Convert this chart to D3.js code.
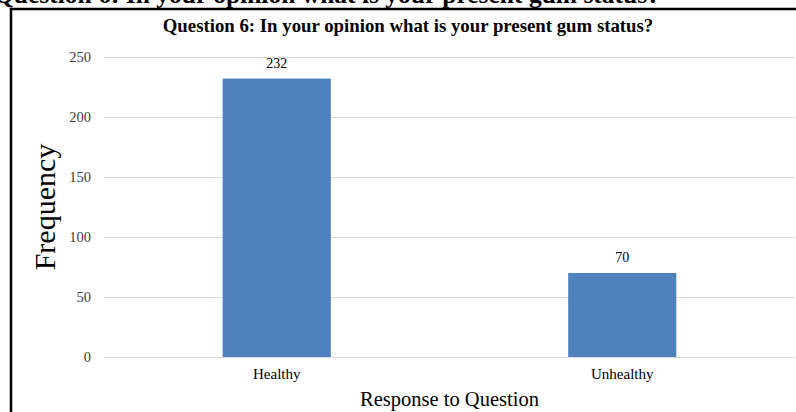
<!DOCTYPE html>
<html>
<head>
<meta charset="utf-8">
<script src="https://cdn.jsdelivr.net/npm/d3@7"></script>
<style>
html,body{margin:0;padding:0;background:#fff;overflow:hidden;}
svg{display:block;}
</style>
</head>
<body>
<script>
const categories = ["Healthy", "Unhealthy"];
const frequencies = [232, 70];
const yTicks = [0, 50, 100, 150, 200, 250];
const chartTitle = "Question 6: In your opinion what is your present gum status?";
const xTitle = "Response to Question";
const yTitle = "Frequency";

const W = 796, H = 412;
const svg = d3.select("body").append("svg").attr("width", W).attr("height", H);
const serif = "'Liberation Serif','Times New Roman',serif";

// cropped caption at top (from the surrounding document)
svg.append("text").attr("x", -6).attr("y", 3)
  .attr("font-family", serif).attr("font-weight", "bold").attr("font-size", 25.5)
  .attr("fill", "#000").text(chartTitle);

// frame
svg.append("line").attr("x1", 10).attr("x2", W).attr("y1", 9).attr("y2", 9)
  .attr("stroke", "#000").attr("stroke-width", 2.5);
svg.append("line").attr("x1", 11).attr("x2", 11).attr("y1", 8).attr("y2", H)
  .attr("stroke", "#000").attr("stroke-width", 2.5);

const plot = {left: 104, right: 795, top: 57, bottom: 357};
const y = d3.scaleLinear().domain([0, 250]).range([plot.bottom, plot.top]);
const x = d3.scaleBand().domain(categories).range([plot.left, plot.right]).padding(0);
const barFrac = 0.313;

// gridlines
svg.append("g").selectAll("line").data(yTicks).join("line")
  .attr("x1", plot.left).attr("x2", plot.right)
  .attr("y1", d => y(d) + 0.5).attr("y2", d => y(d) + 0.5)
  .attr("stroke", "#d9d9d9").attr("stroke-width", 1);

// y axis labels
const yAxis = d3.axisLeft(y).tickValues(yTicks).tickSize(0).tickPadding(0);
const gy = svg.append("g").attr("transform", "translate(91,0)").call(yAxis);
gy.select(".domain").remove();
gy.selectAll("text").attr("font-family", serif).attr("font-size", 14.5).attr("fill", "#404040");

// bars
const bw = x.bandwidth() * barFrac;
svg.append("g").selectAll("rect").data(categories).join("rect")
  .attr("x", d => x(d) + (x.bandwidth() - bw) / 2)
  .attr("width", bw)
  .attr("y", (d, i) => y(frequencies[i]))
  .attr("height", (d, i) => y(0) - y(frequencies[i]))
  .attr("fill", "#4f81bd");

// value labels
svg.append("g").selectAll("text").data(categories).join("text")
  .attr("x", d => x(d) + x.bandwidth() / 2)
  .attr("y", (d, i) => y(frequencies[i]) - 11)
  .attr("text-anchor", "middle")
  .attr("font-family", serif).attr("font-size", 14).attr("fill", "#000")
  .text((d, i) => frequencies[i]);

// x axis labels
const xAxis = d3.axisBottom(x).tickSize(0).tickPadding(0);
const gx = svg.append("g").attr("transform", `translate(0,${plot.bottom + 11})`).call(xAxis);
gx.select(".domain").remove();
gx.selectAll("text").attr("font-family", serif).attr("font-size", 15).attr("fill", "#000");

// chart title
svg.append("text").attr("x", 408).attr("y", 32).attr("text-anchor", "middle")
  .attr("font-family", serif).attr("font-weight", "bold").attr("font-size", 18.8)
  .attr("fill", "#000").text(chartTitle);

// axis titles
svg.append("text").attr("x", (plot.left + plot.right) / 2).attr("y", 406)
  .attr("text-anchor", "middle").attr("font-family", serif).attr("font-size", 20.5)
  .attr("fill", "#000").text(xTitle);
svg.append("text").attr("transform", "translate(55,207) rotate(-90)")
  .attr("text-anchor", "middle").attr("font-family", serif).attr("font-size", 30)
  .attr("fill", "#000").text(yTitle);
</script>
</body>
</html>
